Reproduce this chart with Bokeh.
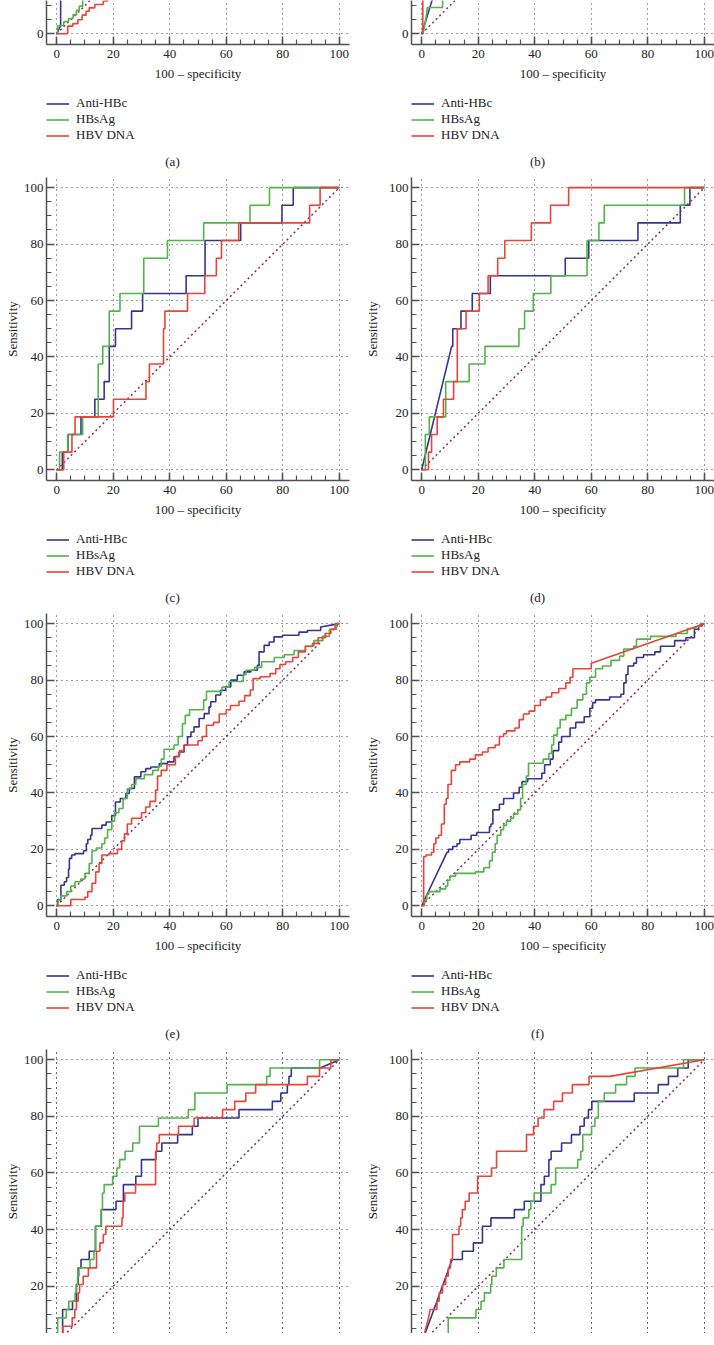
import math
from bokeh.plotting import figure
from bokeh.layouts import column, row
from bokeh.models import Legend, LegendItem, Label, SingleIntervalTicker, Range1d, Grid
from bokeh.embed import file_html
from bokeh.resources import INLINE

FONT = "Liberation Serif"
TXT = "#222222"
AXC = "#505050"
GRIDC = "#3a3a3a"
C_ANTI = "#35358f"
C_HBS = "#52b34b"
C_DNA = "#e9433a"
C_DIAG = "#8a2f5a"

SERIES = ["Anti-HBc", "HBsAg", "HBV DNA"]
PANELS = ["(a)", "(b)", "(c)", "(d)", "(e)", "(f)", "(g)", "(h)"]
X_TITLE = "100 \u2013 specificity"
Y_TITLE = "Sensitivity"
DIAG_X = [0, 100]
DIAG_Y = [0, 100]

# ROC points (100 - specificity, sensitivity) per panel and marker
A_ANTI = [(0, 0), (1.4, 2.9), (1.4, 15)]
A_HBS = [(0, 0), (0.3, 0), (0.3, 2.9), (2.5, 2.9), (2.5, 4.3), (4.2, 4.3), (4.2, 5.4), (5.8, 5.4), (5.8, 6.8),
         (7.0, 6.8), (7.0, 8.3), (8.0, 8.3), (8.0, 9.8), (9.2, 9.8), (9.2, 15)]
A_DNA = [(0, 0), (3.9, 0), (3.9, 2.7), (5.7, 2.7), (5.7, 3.6), (7.5, 3.6), (7.5, 5.0), (9.0, 5.0), (9.0, 6.6),
         (10.4, 6.6), (10.4, 8.0), (11.5, 8.0), (11.5, 9.2), (13.5, 9.2), (13.5, 10.4), (16.5, 10.4),
         (16.5, 11.6), (18, 11.6), (18, 15)]

B_ANTI = [(0, 0), (4.5, 14.5)]
B_HBS = [(0, 0), (0.5, 0), (1.5, 5.3), (2.0, 9.3), (7.4, 9.3), (7.4, 15)]
B_DNA = [(0, 0), (0.4, 0), (0.4, 15)]

C_ANTI_PTS = [(0, 0), (2, 0), (2, 6.25), (4, 6.25), (4, 12.5), (8.6, 12.5), (8.6, 18.75), (13.5, 18.75),
              (13.5, 25), (16.8, 25), (16.8, 31.25), (18.6, 31.25), (18.6, 43.75), (20.8, 43.75), (20.8, 50),
              (26.5, 50), (26.5, 56.25), (30.4, 56.25), (30.4, 62.5), (45.8, 62.5), (45.8, 68.75),
              (52.5, 68.75), (52.5, 81.25), (65.1, 81.25), (65.1, 87.5), (79.7, 87.5), (79.7, 93.75),
              (83.7, 93.75), (83.7, 100), (100, 100)]
C_HBS_PTS = [(0, 0), (1, 0), (1, 6.25), (3.9, 6.25), (3.9, 12.5), (9.2, 12.5), (9.2, 18.75), (14.7, 18.75),
             (14.7, 37.5), (16.3, 37.5), (16.3, 43.75), (18.6, 43.75), (18.6, 56.25), (22.4, 56.25),
             (22.4, 62.5), (30.8, 62.5), (30.8, 75), (39.2, 75), (39.2, 81.25), (52, 81.25), (52, 87.5),
             (68.4, 87.5), (68.4, 93.75), (75.3, 93.75), (75.3, 100), (100, 100)]
C_DNA_PTS = [(0, 0), (2.5, 0), (2.5, 6.25), (5.4, 6.25), (5.4, 12.5), (6.5, 12.5), (6.5, 18.75), (20.1, 18.75),
             (20.1, 25), (31.6, 25), (31.6, 31.25), (32.8, 31.25), (32.8, 37.5), (37.8, 37.5), (37.8, 50),
             (38.3, 50), (38.3, 56.25), (46.3, 56.25), (46.3, 62.5), (52.4, 62.5), (52.4, 68.75),
             (56.5, 68.75), (56.5, 75), (58.3, 75), (58.3, 81.25), (64.4, 81.25), (64.4, 87.5), (89.5, 87.5),
             (89.5, 93.75), (93.2, 93.75), (93.2, 100), (100, 100)]

D_ANTI = [(0, 0), (10.6, 43.75), (11, 43.75), (11, 50), (13.9, 50), (13.9, 56.25), (17.9, 56.25), (17.9, 62.5),
          (24.3, 62.5), (24.3, 68.75), (50.8, 68.75), (50.8, 75), (59.1, 75), (59.1, 81.25), (76.5, 81.25),
          (76.5, 87.5), (91.5, 87.5), (91.5, 93.75), (94.9, 93.75), (94.9, 100), (100, 100)]
D_HBS = [(0, 0), (1.3, 0), (1.3, 12.5), (2.7, 12.5), (2.7, 18.75), (8.5, 18.75), (8.5, 31.25), (16.8, 31.25),
         (16.8, 37.5), (22.4, 37.5), (22.4, 43.75), (34.4, 43.75), (34.4, 50), (36.4, 50), (36.4, 56.25),
         (39.5, 56.25), (39.5, 62.5), (45.7, 62.5), (45.7, 68.75), (58.5, 68.75), (58.5, 81.25),
         (62.7, 81.25), (62.7, 87.5), (64.6, 87.5), (64.6, 93.75), (93, 93.75), (93, 100), (100, 100)]
D_DNA = [(0, 0), (2.4, 0), (2.4, 6.25), (3.5, 6.25), (3.5, 12.5), (5.5, 12.5), (5.5, 18.75), (7.7, 18.75),
         (7.7, 25), (11.3, 25), (11.3, 31.25), (12.6, 31.25), (12.6, 50), (15.7, 50), (15.7, 56.25),
         (20.4, 56.25), (20.4, 62.5), (23.5, 62.5), (23.5, 68.75), (26.9, 68.75), (26.9, 75), (29.4, 75),
         (29.4, 81.25), (38.8, 81.25), (38.8, 87.5), (45.6, 87.5), (45.6, 93.75), (52, 93.75), (52, 100),
         (100, 100)]

E_ANTI = [(0, 0), (0.3, 0), (0.3, 2.2), (1.5, 2.2), (1.5, 7.3), (2.7, 7.3), (2.7, 8.5), (3.5, 8.5), (3.5, 10),
          (4.2, 10), (4.2, 13), (4.5, 13), (4.5, 16.8), (5.3, 16.8), (5.3, 18), (6.5, 18), (6.5, 18.5),
          (9.5, 18.5), (9.5, 19.5), (10.5, 19.5), (10.5, 22), (11, 22), (11, 23.5), (12, 23.5), (12, 25),
          (12.5, 25), (12.5, 27.4), (16, 27.4), (16, 28.6), (17.5, 28.6), (17.5, 29.7), (19.5, 29.7),
          (19.5, 32), (20.8, 32), (20.8, 36.8), (22.5, 36.8), (22.5, 38), (24.5, 38), (24.5, 39.8),
          (25.7, 39.8), (25.7, 41.6), (27.5, 41.6), (27.5, 45.7), (29.8, 45.7), (29.8, 47.5), (31.5, 47.5),
          (31.5, 48.6), (33.3, 48.6), (33.3, 49.2), (36.3, 49.2), (36.3, 50.4), (39.2, 50.4), (39.2, 51),
          (41.5, 51), (41.5, 52.8), (43.3, 52.8), (43.3, 54.5), (45.1, 54.5), (45.1, 56.9), (46.3, 56.9),
          (46.3, 59.9), (47.5, 59.9), (47.5, 61.6), (48.6, 61.6), (48.6, 63.4), (50.4, 63.4), (50.4, 66.4),
          (52.2, 66.4), (52.2, 68.1), (53.9, 68.1), (53.9, 70.5), (54.5, 70.5), (54.5, 72.3), (56.3, 72.3),
          (56.3, 74.7), (58, 74.7), (58, 76.4), (59.8, 76.4), (59.8, 77.6), (61.6, 77.6), (61.6, 80),
          (63.9, 80), (63.9, 81.7), (66.3, 81.7), (66.3, 82.9), (68.7, 82.9), (68.7, 83.5), (71, 83.5),
          (71, 85.2), (71.6, 85.2), (71.6, 90), (73.4, 90), (73.4, 92.3), (75.2, 92.3), (75.2, 93.5),
          (76.9, 93.5), (76.9, 95.3), (79.9, 95.3), (79.9, 95.9), (85.7, 95.9), (85.7, 97), (88.7, 97),
          (88.7, 97.6), (93.4, 97.6), (93.4, 98.8), (100, 100)]
E_HBS = [(0, 0), (0.5, 0), (0.5, 2), (1.5, 2), (1.5, 3.5), (3.5, 3.5), (3.5, 5), (5, 5), (5, 7), (6.5, 7),
         (6.5, 8.5), (8.5, 8.5), (8.5, 9.5), (10, 9.5), (10, 11.5), (11.5, 11.5), (11.5, 15), (12.5, 15),
         (12.5, 19.5), (14, 19.5), (14, 20.5), (16, 20.5), (16, 22), (17, 22), (17, 24), (18, 24), (18, 27),
         (19.5, 27), (19.5, 30), (20.5, 30), (20.5, 33), (22, 33), (22, 34.5), (23.5, 34.5), (23.5, 38),
         (25, 38), (25, 41.5), (26.5, 41.5), (26.5, 43), (28, 43), (28, 45), (31, 45), (31, 46.5), (34, 46.5),
         (34, 48), (36, 48), (36, 49.5), (37, 49.5), (37, 52), (38, 52), (38, 55.5), (41.5, 55.5),
         (41.5, 57), (43, 57), (43, 60), (44.5, 60), (44.5, 64.5), (45.5, 64.5), (45.5, 67.5), (47, 67.5),
         (47, 69.5), (52, 69.5), (52, 73), (53, 73), (53, 76), (58.5, 76), (58.5, 77.5), (61, 77.5),
         (61, 79.5), (66, 79.5), (66, 82), (67, 82), (67, 83.5), (70, 83.5), (70, 84.5), (72.5, 84.5),
         (72.5, 86.5), (77, 86.5), (77, 88), (80.5, 88), (80.5, 89), (84, 89), (84, 90.5), (88, 90.5),
         (88, 92), (91, 92), (91, 94), (94, 94), (94, 95.5), (96.5, 95.5), (96.5, 98), (99, 98), (99, 100),
         (100, 100)]
E_DNA = [(0, 0), (5, 0), (5, 2.2), (10, 2.2), (10, 3), (11, 3), (11, 5), (12.5, 5), (12.5, 8), (13.8, 8),
         (13.8, 12), (15, 12), (15, 15), (16, 15), (16, 18), (18.5, 18), (18.5, 18.5), (21.5, 18.5),
         (21.5, 20), (23, 20), (23, 23), (24, 23), (24, 25.5), (25, 25.5), (25, 29), (26.5, 29), (26.5, 31),
         (30, 31), (30, 33), (31.5, 33), (31.5, 35), (33, 35), (33, 37), (35, 37), (35, 41), (35.7, 41),
         (35.7, 46), (37, 46), (37, 48), (39, 48), (39, 50), (42, 50), (42, 53), (43.5, 53), (43.5, 55),
         (45, 55), (45, 57), (50, 57), (50, 58.5), (51.5, 58.5), (51.5, 60), (53, 60), (53, 64), (55.5, 64),
         (55.5, 65), (57.5, 65), (57.5, 68), (60, 68), (60, 69.5), (61.5, 69.5), (61.5, 71), (64.5, 71),
         (64.5, 72.5), (66.5, 72.5), (66.5, 74.5), (68.5, 74.5), (68.5, 76.5), (69.5, 76.5), (69.5, 80.5),
         (72, 80.5), (72, 81.2), (75.5, 81.2), (75.5, 82.3), (77.5, 82.3), (77.5, 84), (79, 84), (79, 85.5),
         (81, 85.5), (81, 86.5), (83.5, 86.5), (83.5, 88), (85.5, 88), (85.5, 90), (88, 90), (88, 92),
         (90.5, 92), (90.5, 93), (92.5, 93), (92.5, 95), (95, 95), (95, 96.5), (97, 96.5), (97, 98),
         (98.5, 98), (98.5, 100), (100, 100)]

F_ANTI = [(0, 0), (9, 19), (9.5, 19), (9.5, 20), (11, 20), (11, 21), (12.5, 21), (12.5, 22), (13.5, 22),
          (13.5, 23.5), (17.5, 23.5), (17.5, 25), (19.5, 25), (19.5, 26), (24, 26), (24, 28), (24.5, 28),
          (24.5, 29), (25.2, 29), (25.2, 34), (27.5, 34), (27.5, 36), (29, 36), (29, 38), (32.5, 38),
          (32.5, 40), (34.5, 40), (34.5, 42), (35.5, 42), (35.5, 44), (37.5, 44), (37.5, 45), (42.5, 45),
          (42.5, 47), (43.5, 47), (43.5, 50), (45.5, 50), (45.5, 52), (46.5, 52), (46.5, 55), (48.5, 55),
          (48.5, 58), (49.5, 58), (49.5, 60), (52.5, 60), (52.5, 63), (54.5, 63), (54.5, 65), (57.5, 65),
          (57.5, 67), (59.5, 67), (59.5, 70), (60.5, 70), (60.5, 72), (61.5, 72), (61.5, 73), (66.5, 73),
          (66.5, 74), (70.5, 74), (70.5, 75), (71.5, 75), (71.5, 79), (72.3, 79), (72.3, 82), (73, 82),
          (73, 85), (75, 85), (75, 86), (76, 86), (76, 88), (78.5, 88), (78.5, 89), (82.5, 89), (82.5, 90),
          (84.5, 90), (84.5, 92), (89.5, 92), (89.5, 94), (93.5, 94), (93.5, 95), (96.5, 95), (96.5, 98),
          (98, 98), (98, 99), (100, 100)]
F_HBS = [(0, 0), (1, 0), (1, 2), (1.8, 2), (1.8, 4), (2.5, 4), (2.5, 5), (6.5, 5), (6.5, 6), (8.5, 6), (8.5, 7),
         (9.2, 7), (9.2, 9), (10, 9), (10, 10.5), (12, 10.5), (12, 11.5), (19, 11.5), (19, 12), (22, 12),
         (22, 13.5), (24, 13.5), (24, 16), (25, 16), (25, 19), (26, 19), (26, 22), (26.7, 22), (26.7, 25),
         (28, 25), (28, 27), (29, 27), (29, 28.5), (30, 28.5), (30, 30), (31.5, 30), (31.5, 31), (32.5, 31),
         (32.5, 32.5), (34, 32.5), (34, 34), (35, 34), (35, 38), (35.7, 38), (35.7, 43), (37, 43), (37, 46),
         (37.8, 46), (37.8, 50.5), (43, 50.5), (43, 52), (45, 52), (45, 54), (46, 54), (46, 57), (46.7, 57),
         (46.7, 60.5), (48, 60.5), (48, 63), (49, 63), (49, 66), (51, 66), (51, 67.5), (53, 67.5), (53, 70),
         (55, 70), (55, 73), (57, 73), (57, 75), (58.3, 75), (58.3, 79), (59.5, 79), (59.5, 81), (61.5, 81),
         (61.5, 84), (64, 84), (64, 85), (67, 85), (67, 87), (70, 87), (70, 88.5), (71.5, 88.5), (71.5, 91),
         (75, 91), (75, 92), (76, 92), (76, 94.5), (81, 94.5), (81, 95.5), (90, 95.5), (90, 96.5), (94, 96.5),
         (94, 98.3), (97, 98.3), (97, 99), (98.5, 99), (98.5, 100), (100, 100)]
F_DNA = [(0, 0), (0.7, 0), (0.7, 17.4), (1.5, 17.4), (1.5, 18), (3.5, 18), (3.5, 19), (4.3, 19), (4.3, 22),
         (5, 22), (5, 24), (6, 24), (6, 25), (7, 25), (7, 29), (8, 29), (8, 36), (8.7, 36), (8.7, 38),
         (9.3, 38), (9.3, 43), (10.5, 43), (10.5, 48), (12, 48), (12, 50), (13.5, 50), (13.5, 51), (17, 51),
         (17, 52), (19, 52), (19, 53.5), (21.5, 53.5), (21.5, 54.5), (23.5, 54.5), (23.5, 56), (26, 56),
         (26, 57), (27.5, 57), (27.5, 60), (29, 60), (29, 61), (30, 61), (30, 62), (33, 62), (33, 63),
         (34.5, 63), (34.5, 66), (36, 66), (36, 68), (38, 68), (38, 69), (40, 69), (40, 71), (42, 71),
         (42, 73), (44, 73), (44, 74), (46, 74), (46, 75.5), (48.5, 75.5), (48.5, 77), (51, 77), (51, 79),
         (52.5, 79), (52.5, 81), (53.5, 81), (53.5, 84), (60, 84), (60, 86), (100, 100)]

G_ANTI = [(0, 0), (2.1, 0), (2.1, 11.76), (5.6, 11.76), (5.6, 14.71), (7.0, 14.71), (7.0, 20.59), (7.6, 20.59),
          (7.6, 26.47), (8.6, 26.47), (8.6, 29.41), (11.5, 29.41), (11.5, 32.35), (13.7, 32.35),
          (13.7, 41.18), (15.8, 41.18), (15.8, 47.06), (21, 47.06), (21, 50), (23.6, 50), (23.6, 55.88),
          (28, 55.88), (28, 58.82), (30, 58.82), (30, 64.71), (35.1, 64.71), (35.1, 67.65), (37.2, 67.65),
          (37.2, 70.59), (42.8, 70.59), (42.8, 73.53), (48, 73.53), (48, 76.47), (50, 76.47), (50, 79.41),
          (64.5, 79.41), (64.5, 82.35), (76.3, 82.35), (76.3, 85.29), (79.3, 85.29), (79.3, 88.24),
          (81.6, 88.24), (81.6, 91.18), (82.2, 91.18), (82.2, 94.12), (83, 94.12), (83, 97.06),
          (93.2, 97.06), (100, 100)]
G_HBS = [(0, 0), (0.35, 0), (0.35, 8.82), (3.4, 8.82), (3.4, 11.76), (4.3, 11.76), (4.3, 14.71), (6.5, 14.71),
         (6.5, 17.65), (6.9, 17.65), (6.9, 20.59), (7.4, 20.59), (7.4, 23.53), (7.9, 23.53), (7.9, 26.47),
         (11.8, 26.47), (11.8, 29.41), (13.2, 29.41), (13.2, 32.35), (13.8, 32.35), (13.8, 41.18),
         (15.7, 41.18), (15.7, 47.06), (16.2, 47.06), (16.2, 52.94), (16.8, 52.94), (16.8, 55.88),
         (19.8, 55.88), (19.8, 58.82), (21.3, 58.82), (21.3, 61.76), (22.3, 61.76), (22.3, 64.71),
         (24.2, 64.71), (24.2, 67.65), (26.9, 67.65), (26.9, 70.59), (29.3, 70.59), (29.3, 76.47),
         (36, 76.47), (36, 79.41), (46.6, 79.41), (46.6, 82.35), (48.9, 82.35), (48.9, 88.24),
         (60.3, 88.24), (60.3, 91.18), (74.3, 91.18), (74.3, 94.12), (75.5, 94.12), (75.5, 97.06),
         (93, 97.06), (93, 100), (100, 100)]
G_DNA = [(0, 0), (2.2, 0), (2.2, 5.88), (5.5, 5.88), (5.5, 8.82), (6.4, 8.82), (6.4, 11.76), (7.0, 11.76),
         (7.0, 14.71), (7.6, 14.71), (7.6, 17.65), (8.1, 17.65), (8.1, 20.59), (9.4, 20.59), (9.4, 23.53),
         (11.2, 23.53), (11.2, 26.47), (14.1, 26.47), (14.1, 32.35), (15.3, 32.35), (15.3, 35.29),
         (16.5, 35.29), (16.5, 38.24), (17.4, 38.24), (17.4, 41.18), (23.1, 41.18), (23.1, 44.12),
         (23.5, 44.12), (23.5, 50), (24.1, 50), (24.1, 52.94), (27.9, 52.94), (27.9, 55.88), (35, 55.88),
         (35, 67.65), (35.4, 67.65), (35.4, 70.59), (36.3, 70.59), (36.3, 73.53), (43.1, 73.53),
         (43.1, 76.47), (48.6, 76.47), (48.6, 79.41), (58.7, 79.41), (58.7, 82.35), (63, 82.35),
         (63, 85.29), (66.9, 85.29), (66.9, 88.24), (70.4, 88.24), (70.4, 91.18), (88.7, 91.18),
         (88.7, 94.12), (93, 94.12), (93, 97.06), (97, 97.06), (97, 100), (100, 100)]

H_ANTI = [(0, 0), (10.8, 29.41), (14.4, 29.41), (14.4, 32.35), (18.3, 32.35), (18.3, 35.29), (21.5, 35.29),
          (21.5, 41.18), (24.5, 41.18), (24.5, 44.12), (32.8, 44.12), (32.8, 47.06), (36.3, 47.06),
          (36.3, 50), (42.2, 50), (42.2, 55.88), (43.4, 55.88), (43.4, 58.82), (45, 58.82), (45, 64.71),
          (45.8, 64.71), (45.8, 67.65), (49.5, 67.65), (49.5, 70.59), (53, 70.59), (53, 73.53), (56, 73.53),
          (56, 76.47), (57.5, 76.47), (57.5, 79.41), (59, 79.41), (59, 82.35), (60.2, 82.35), (60.2, 85.29),
          (75.2, 85.29), (75.2, 88.24), (83.7, 88.24), (83.7, 91.18), (87.3, 91.18), (87.3, 94.12),
          (90.6, 94.12), (90.6, 97.06), (94.3, 97.06), (94.3, 100), (100, 100)]
H_HBS = [(0, 0), (9.4, 0), (9.4, 8.82), (19.2, 8.82), (19.2, 11.76), (21, 11.76), (21, 14.71), (22.2, 14.71),
         (22.2, 17.65), (24.4, 17.65), (24.4, 20.59), (24.8, 20.59), (24.8, 23.53), (26.4, 23.53),
         (26.4, 26.47), (29.1, 26.47), (29.1, 29.41), (35.4, 29.41), (35.4, 41.18), (35.9, 41.18),
         (35.9, 44.12), (37.9, 44.12), (37.9, 47.06), (38.6, 47.06), (38.6, 50), (39.8, 50), (39.8, 52.94),
         (45.8, 52.94), (45.8, 55.88), (47.4, 55.88), (47.4, 61.76), (55.2, 61.76), (55.2, 64.71),
         (56.3, 64.71), (56.3, 67.65), (57, 67.65), (57, 73.53), (60.1, 73.53), (60.1, 76.47), (61.3, 76.47),
         (61.3, 79.41), (62.5, 79.41), (62.5, 85.29), (64.6, 85.29), (64.6, 88.24), (68.6, 88.24),
         (68.6, 91.18), (72.5, 91.18), (72.5, 94.12), (75.5, 94.12), (75.5, 97.06), (92.6, 97.06),
         (92.6, 100), (100, 100)]
H_DNA = [(0, 0), (0.9, 2.94), (2.4, 8.82), (3.0, 11.76), (5.4, 11.76), (5.4, 14.71), (6.2, 14.71), (6.2, 17.65),
         (7.4, 17.65), (7.4, 20.59), (8.5, 20.59), (8.5, 23.53), (9.4, 23.53), (9.4, 26.47), (10.2, 26.47),
         (10.2, 29.41), (10.9, 29.41), (10.9, 38.24), (13.2, 38.24), (13.2, 41.18), (13.8, 41.18),
         (13.8, 44.12), (14.4, 44.12), (14.4, 47.06), (15.4, 47.06), (15.4, 50), (16.8, 50), (16.8, 52.94),
         (19.8, 52.94), (19.8, 58.82), (24.7, 58.82), (24.7, 61.76), (26.5, 61.76), (26.5, 67.65),
         (37.1, 67.65), (37.1, 73.53), (39.6, 73.53), (39.6, 76.47), (41.2, 76.47), (41.2, 79.41),
         (43.3, 79.41), (43.3, 82.35), (46.7, 82.35), (46.7, 85.29), (49.8, 85.29), (49.8, 88.24),
         (53.3, 88.24), (53.3, 91.18), (59.2, 91.18), (59.2, 94.12), (66.6, 94.12), (100, 100)]

CURVES = [
    (A_ANTI, A_HBS, A_DNA), (B_ANTI, B_HBS, B_DNA),
    (C_ANTI_PTS, C_HBS_PTS, C_DNA_PTS), (D_ANTI, D_HBS, D_DNA),
    (E_ANTI, E_HBS, E_DNA), (F_ANTI, F_HBS, F_DNA),
    (G_ANTI, G_HBS, G_DNA), (H_ANTI, H_HBS, H_DNA),
]
COLORS = [C_ANTI, C_HBS, C_DNA]
LW = 1.6

# column geometry: (figure width, left border, right border, y-label standoff)
COL_GEOM = {True: (360, 46, 11, 1), False: (354, 51, 0, 6)}


def style_axis(ax):
    ax.ticker = SingleIntervalTicker(interval=20, num_minor_ticks=4)
    ax.major_tick_in = 8
    ax.major_tick_out = 0
    ax.minor_tick_in = 5
    ax.minor_tick_out = 0
    ax.axis_line_color = AXC
    ax.axis_line_width = 1.5
    ax.major_tick_line_color = AXC
    ax.major_tick_line_width = 1.5
    ax.minor_tick_line_color = AXC
    ax.minor_tick_line_width = 1.2
    ax.major_label_text_font = FONT
    ax.major_label_text_font_size = "13px"
    ax.major_label_text_color = TXT
    ax.axis_label_text_font = FONT
    ax.axis_label_text_font_size = "13px"
    ax.axis_label_text_font_style = "normal"
    ax.axis_label_text_color = TXT


def make_plot(i, kind):
    w, mbl, mbr, ystand = COL_GEOM[i % 2 == 0]
    if kind == "top":
        h, mbt, mbb, y0, y1 = 89, 0, 45, -3.8, 11.8
    elif kind == "full":
        h, mbt, mbb, y0, y1 = 356, 8, 45, -3.8, 103.6
    else:
        h, mbt, mbb, y0, y1 = 292, 8, 0, 3.3, 103.6
    p = figure(width=w, height=h, x_range=Range1d(-3.6, 103.6), y_range=Range1d(y0, y1),
               toolbar_location=None, output_backend="svg",
               x_axis_location=None if kind == "bottom" else "below",
               min_border_left=mbl, min_border_right=mbr, min_border_top=mbt, min_border_bottom=mbb)
    p.outline_line_color = None
    p.background_fill_color = "white"
    p.border_fill_color = "white"
    if kind == "bottom":
        p.add_layout(Grid(dimension=0, ticker=SingleIntervalTicker(interval=20)))
    for ax in p.axis:
        style_axis(ax)
    if kind != "bottom":
        p.xaxis.axis_label = X_TITLE
        p.xaxis.major_label_standoff = 5
        p.xaxis.axis_label_standoff = 5
    yax = p.yaxis[0]
    yax.major_label_standoff = 3
    if kind != "top":
        yax.axis_label = Y_TITLE
        yax.axis_label_standoff = ystand
    for g in p.grid:
        g.grid_line_color = GRIDC
        g.grid_line_dash = "1 4"
        g.grid_line_width = 1

    p.line(DIAG_X, DIAG_Y, line_color=C_DIAG, line_width=1.5, line_dash="2 3")
    for pts, col in zip(CURVES[i], COLORS):
        xs = [q[0] for q in pts]
        ys = [q[1] for q in pts]
        p.line(xs, ys, line_color=col, line_width=LW)
    return p


def make_key(i):
    w, mbl, mbr, _ = COL_GEOM[i % 2 == 0]
    k = figure(width=w, height=80, x_range=Range1d(0, 1), y_range=Range1d(0, 1),
               toolbar_location=None, output_backend="svg", x_axis_location=None, y_axis_location=None,
               min_border=0)
    k.outline_line_color = None
    k.xgrid.visible = False
    k.ygrid.visible = False
    # legend-only line renderers (no visible data), styled like the curves
    rends = [k.line([math.nan], [math.nan], line_color=c, line_width=LW) for c in COLORS]
    items = [LegendItem(label=s, renderers=[r]) for s, r in zip(SERIES, rends)]
    lg = Legend(items=items, location=(0, 26), orientation="vertical", padding=0, spacing=0,
                margin=0, border_line_color=None, background_fill_alpha=0,
                label_text_font=FONT, label_text_font_size="13px", label_text_color=TXT,
                label_height=15, glyph_height=15, glyph_width=23, label_standoff=7)
    k.add_layout(lg)
    k.add_layout(Label(x=126, y=8.3, x_units="screen", y_units="screen", text=PANELS[i],
                       text_align="center", text_baseline="middle", text_font=FONT,
                       text_font_size="13px", text_color=TXT))
    return k


kinds = ["top", "top", "full", "full", "full", "full", "bottom", "bottom"]
cells = []
for i, kd in enumerate(kinds):
    pf = make_plot(i, kd)
    if kd == "bottom":
        cells.append(pf)
    else:
        cells.append(column(pf, make_key(i)))

layout = column(row(cells[0], cells[1]), row(cells[2], cells[3]), row(cells[4], cells[5]),
                row(cells[6], cells[7]))

open("out.html", "w").write(file_html(layout, INLINE, title="ROC curves"))
